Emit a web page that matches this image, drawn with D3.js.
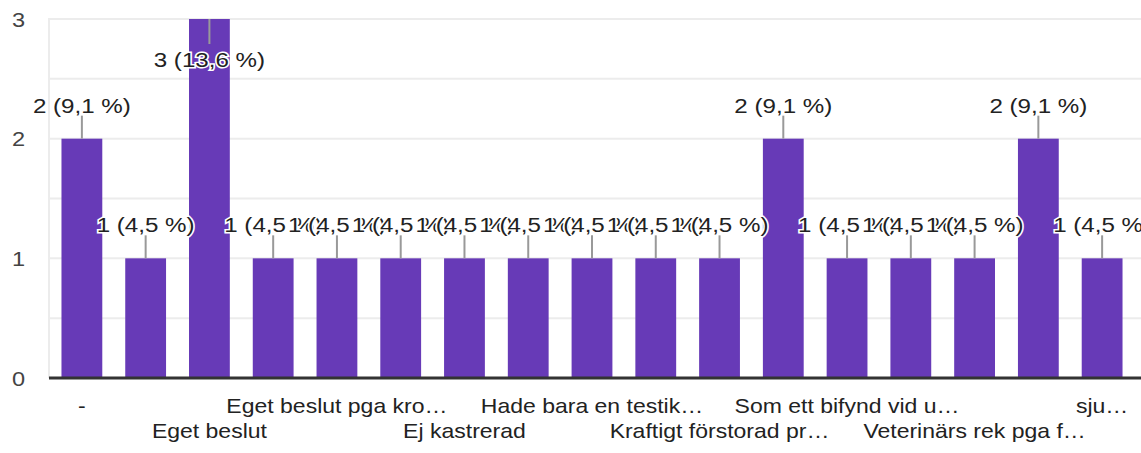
<!DOCTYPE html>
<html>
<head>
<meta charset="utf-8">
<script src="https://cdn.jsdelivr.net/npm/d3@7"></script>
<style>
  body { margin: 0; background: #fff; }
  text { font-family: "Liberation Sans", Arial, sans-serif; }
</style>
</head>
<body>
<div id="chart"></div>
<script>
// answers (only every other category label is shown in the chart)
var categories = ["-", "", "Eget beslut", "", "Eget beslut pga kro…", "", "Ej kastrerad", "",
  "Hade bara en testik…", "", "Kraftigt förstorad pr…", "", "Som ett bifynd vid u…", "",
  "Veterinärs rek pga f…", "", "sju…"];
var counts = [2, 1, 3, 1, 1, 1, 1, 1, 1, 1, 1, 2, 1, 1, 1, 2, 1];
var percents = ["9,1", "4,5", "13,6", "4,5", "4,5", "4,5", "4,5", "4,5", "4,5", "4,5", "4,5",
  "9,1", "4,5", "4,5", "4,5", "9,1", "4,5"];
var yTicks = [0, 1, 2, 3];

var width = 1141, height = 453;
var sx = 1.15; // text in the picture is stretched a bit horizontally

var svg = d3.select("#chart").append("svg")
    .attr("width", width)
    .attr("height", height);

var x = d3.scaleBand()
    .domain(d3.range(categories.length))
    .range([50, 1134])
    .paddingInner(0.36)
    .paddingOuter(0.18);

var y = d3.scaleLinear()
    .domain([0, 3])
    .range([378, 19]);

// gridlines, minor ones at the half steps
var grid = d3.range(0, 3.01, 0.5);
svg.selectAll(".grid")
    .data(grid)
    .enter().append("line")
    .attr("x1", 49).attr("x2", width)
    .attr("y1", function (d) { return y(d); })
    .attr("y2", function (d) { return y(d); })
    .attr("stroke", "#ececec")
    .attr("stroke-width", 2);

svg.append("line")
    .attr("x1", 49).attr("x2", 49)
    .attr("y1", y(3) - 1).attr("y2", y(0))
    .attr("stroke", "#ececec")
    .attr("stroke-width", 2);

// y tick labels
svg.selectAll(".ytick")
    .data(yTicks)
    .enter().append("text")
    .attr("transform", function (d) { return "translate(25," + (y(d) + 7.5) + ") scale(" + sx + ",1)"; })
    .attr("text-anchor", "end")
    .attr("font-size", 20.5)
    .attr("fill", "#444")
    .text(function (d) { return d; });

// bars
svg.selectAll(".bar")
    .data(counts)
    .enter().append("rect")
    .attr("x", function (d, i) { return x(i); })
    .attr("width", x.bandwidth())
    .attr("y", function (d) { return y(d); })
    .attr("height", function (d) { return y(0) - y(d); })
    .attr("fill", "#673ab7");

// baseline
svg.append("line")
    .attr("x1", 49).attr("x2", width)
    .attr("y1", y(0)).attr("y2", y(0))
    .attr("stroke", "#333")
    .attr("stroke-width", 3);

// x labels, alternating two rows
svg.selectAll(".xlab")
    .data(categories)
    .enter().append("text")
    .attr("transform", function (d, i) {
        var row = (i / 2) % 2;
        return "translate(" + (x(i) + x.bandwidth() / 2) + "," + (413 + row * 25) + ") scale(" + sx + ",1)";
    })
    .attr("text-anchor", "middle")
    .attr("font-size", 20)
    .attr("fill", "#222")
    .text(function (d) { return d; });

// leader lines and value labels
var lines = svg.append("g");
var labels = svg.append("g");

counts.forEach(function (d, i) {
    var cx = x(i) + x.bandwidth() / 2;
    var top = y(d);
    var inside = d === 3; // no room above the tallest bar
    lines.append("line")
        .attr("x1", cx).attr("x2", cx)
        .attr("y1", top)
        .attr("y2", inside ? top + 25 : top - 23)
        .attr("stroke", "#999")
        .attr("stroke-width", 2);
    labels.append("text")
        .attr("transform", "translate(" + cx + "," + (inside ? top + 48 : top - 26) + ") scale(" + sx + ",1)")
        .attr("text-anchor", "middle")
        .attr("font-size", 21)
        .attr("fill", "#222")
        .attr("stroke", "#fff")
        .attr("stroke-width", 3)
        .attr("paint-order", "stroke")
        .text(d + " (" + percents[i] + " %)");
});
</script>
</body>
</html>
